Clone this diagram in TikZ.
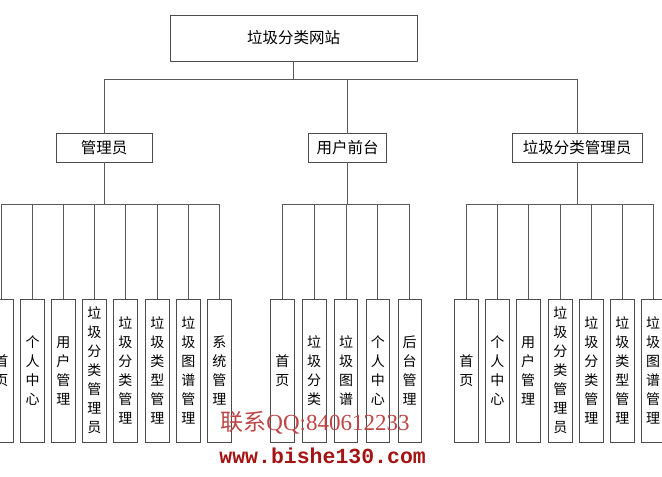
\documentclass[tikz,border=0pt]{standalone}
\usepackage{fontspec}
\setmainfont{Liberation Serif}
\newfontfamily\cjk{Noto Sans CJK SC}
\newfontfamily\wmmono{Liberation Mono}
\usetikzlibrary{positioning}
\definecolor{wmlight}{RGB}{190,70,70}
\definecolor{wmdark}{RGB}{165,20,20}

\begin{document}
\begin{tikzpicture}[x=1pt,y=-1pt,line width=0.8pt,
  topbox/.style={draw=black!70,fill=white,minimum width=247pt,minimum height=46pt,font=\cjk\fontsize{15.5}{18}\selectfont},
  midbox/.style={draw=black!70,fill=white,minimum height=29pt,inner xsep=8pt,font=\cjk\fontsize{15.5}{18}\selectfont},
  leafbox/.style={draw=black!70,fill=white,anchor=north,minimum width=23.5pt,minimum height=142.5pt,inner sep=0pt,align=center,font=\cjk\fontsize{14}{19}\selectfont},
  link/.style={draw=black!65}]
  \clip (0,0) rectangle (662,477);

  \node[topbox] (root) at (293.5,38) {垃圾分类网站};

  \node[midbox,minimum width=96pt] (adm) at (104,147.5) {管理员};
  \node[midbox] (front) at (347.5,147.5) {用户前台};
  \node[midbox,minimum width=130pt] (gadm) at (577,147.5) {垃圾分类管理员};

  % 管理员
  \node[leafbox] (a1) at (1.5,299) {首\\页};
  \node[leafbox] (a2) at (32.5,299) {个\\人\\中\\心};
  \node[leafbox] (a3) at (63.3,299) {用\\户\\管\\理};
  \node[leafbox] (a4) at (94.3,299) {垃\\圾\\分\\类\\管\\理\\员};
  \node[leafbox] (a5) at (125.3,299) {垃\\圾\\分\\类\\管\\理};
  \node[leafbox] (a6) at (157.3,299) {垃\\圾\\类\\型\\管\\理};
  \node[leafbox] (a7) at (188.3,299) {垃\\圾\\图\\谱\\管\\理};
  \node[leafbox] (a8) at (219.3,299) {系\\统\\管\\理};

  % 用户前台
  \node[leafbox] (u1) at (282.3,299) {首\\页};
  \node[leafbox] (u2) at (314.2,299) {垃\\圾\\分\\类};
  \node[leafbox] (u3) at (346,299) {垃\\圾\\图\\谱};
  \node[leafbox] (u4) at (377.8,299) {个\\人\\中\\心};
  \node[leafbox] (u5) at (409.7,299) {后\\台\\管\\理};

  % 垃圾分类管理员
  \node[leafbox] (m1) at (466.3,299) {首\\页};
  \node[leafbox] (m2) at (497.3,299) {个\\人\\中\\心};
  \node[leafbox] (m3) at (528.2,299) {用\\户\\管\\理};
  \node[leafbox] (m4) at (560.3,299) {垃\\圾\\分\\类\\管\\理\\员};
  \node[leafbox] (m5) at (591.3,299) {垃\\圾\\分\\类\\管\\理};
  \node[leafbox] (m6) at (622.3,299) {垃\\圾\\类\\型\\管\\理};
  \node[leafbox] (m7) at (653,299) {垃\\圾\\图\\谱\\管\\理};

  \draw[link] (root.south) -- ++(0,18) -| (adm.north);
  \draw[link] (root.south) -- ++(0,18) -| (front.north);
  \draw[link] (root.south) -- ++(0,18) -| (gadm.north);
  \foreach \i in {1,...,8}
    \draw[link] (adm.south) -- ++(0,42) -| (a\i.north);
  \foreach \i in {1,...,5}
    \draw[link] (front.south) -- ++(0,42) -| (u\i.north);
  \foreach \i in {1,...,7}
    \draw[link] (gadm.south) -- ++(0,42) -| (m\i.north);

  % watermark
  \node[anchor=base west,inner sep=0pt,text=wmlight,font=\fontsize{23}{23}\selectfont] (wm1) at (220,430) {{\cjk 联系}QQ:840612233};
  \node[anchor=base west,inner sep=0pt,text=wmdark,font=\wmmono\bfseries\fontsize{21.5}{22}\selectfont] (wm2) at (219,463) {www.bishe130.com};
\end{tikzpicture}
\end{document}
